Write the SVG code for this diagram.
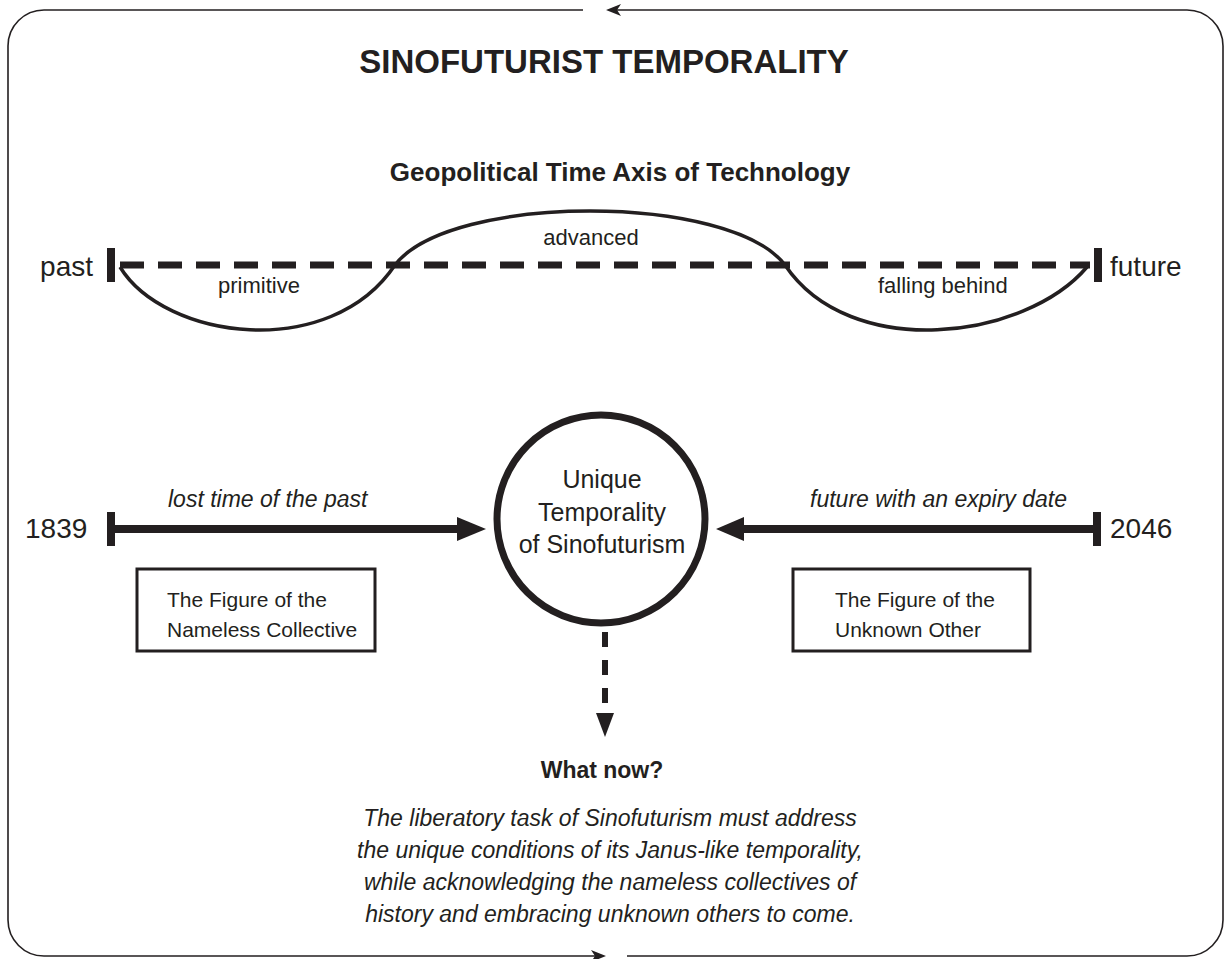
<svg xmlns="http://www.w3.org/2000/svg" width="1224" height="959" viewBox="0 0 1224 959">
<style>
text{font-family:"Liberation Sans",Arial,sans-serif;fill:#231f20}
.b{font-weight:bold}
.i{font-style:italic}
.frame{fill:none;stroke:#231f20;stroke-width:1.6}
.thick{fill:none;stroke:#231f20;stroke-width:8}
.dash{fill:none;stroke:#231f20;stroke-width:7;stroke-dasharray:24 14}
.vdash{fill:none;stroke:#231f20;stroke-width:6;stroke-dasharray:15 13}
.curve{fill:none;stroke:#231f20;stroke-width:3.5}
.box{fill:#fff;stroke:#231f20;stroke-width:3}
.head{fill:#231f20}
</style>
<rect width="1224" height="959" fill="#fff"/>
<g id="frame">
<path class="frame" d="M583 10 H44 A36 36 0 0 0 8 46 V920 A36 36 0 0 0 44 956 H596"/>
<polygon class="head" points="606,956 591,950 595,956 591,962"/>
<path class="frame" d="M627 956 H1187 A36 36 0 0 0 1223 920 V46 A36 36 0 0 0 1187 10 H616"/>
<polygon class="head" points="606,10 621,4 617,10 621,16"/>
</g>
<g id="titles">
<text x="604" y="73" font-size="33" class="b" text-anchor="middle">SINOFUTURIST TEMPORALITY</text>
<text x="620" y="181" font-size="26" class="b" text-anchor="middle">Geopolitical Time Axis of Technology</text>
</g>
<g id="axis">
<rect x="107" y="248" width="8" height="34" fill="#231f20"/>
<rect x="1094" y="248" width="8" height="34" fill="#231f20"/>
<path class="dash" d="M120 265 H1090"/>
<path class="curve" d="M120 267 C165 340 330 362 395 265 C450 193 730 193 785 265 C850 362 1025 340 1087 267"/>
<text x="93" y="276" font-size="28" text-anchor="end">past</text>
<text x="1110" y="276" font-size="28">future</text>
<text x="591" y="245" font-size="22" text-anchor="middle">advanced</text>
<text x="218" y="293" font-size="22">primitive</text>
<text x="878" y="293" font-size="22">falling behind</text>
</g>
<g id="center-node">
<circle cx="601" cy="519" r="104" fill="#fff" stroke="#231f20" stroke-width="7"/>
<text x="602" y="488" font-size="25" text-anchor="middle">Unique</text>
<text x="602" y="521" font-size="25" text-anchor="middle">Temporality</text>
<text x="602" y="553" font-size="25" text-anchor="middle">of Sinofuturism</text>
</g>
<g id="connectors">
<rect x="107" y="512" width="8" height="34" fill="#231f20"/>
<path class="thick" d="M115 529 H460"/>
<polygon class="head" points="486,529 457,517 457,541"/>
<rect x="1093" y="512" width="8" height="34" fill="#231f20"/>
<path class="thick" d="M740 529 H1093"/>
<polygon class="head" points="716,529 744,517 744,541"/>
<path class="vdash" d="M605 632 V716"/>
<polygon class="head" points="605,737 596,713 614,713"/>
</g>
<g id="left-labels">
<text x="25" y="538" font-size="28">1839</text>
<text x="168" y="507" font-size="23" class="i">lost time of the past</text>
</g>
<g id="right-labels">
<text x="1110" y="538" font-size="28">2046</text>
<text x="1067" y="507" font-size="23" class="i" text-anchor="end">future with an expiry date</text>
</g>
<g id="box-left">
<rect class="box" x="137" y="569" width="238" height="82"/>
<text x="167" y="607" font-size="21">The Figure of the</text>
<text x="167" y="637" font-size="21">Nameless Collective</text>
</g>
<g id="box-right">
<rect class="box" x="793" y="569" width="237" height="82"/>
<text x="835" y="607" font-size="21">The Figure of the</text>
<text x="835" y="637" font-size="21">Unknown Other</text>
</g>
<g id="what-now">
<text x="602" y="778" font-size="23" class="b" text-anchor="middle">What now?</text>
<text x="610" y="826" font-size="23" class="i" text-anchor="middle">The liberatory task of Sinofuturism must address</text>
<text x="610" y="858" font-size="23" class="i" text-anchor="middle">the unique conditions of its Janus-like temporality,</text>
<text x="610" y="890" font-size="23" class="i" text-anchor="middle">while acknowledging the nameless collectives of</text>
<text x="610" y="922" font-size="23" class="i" text-anchor="middle">history and embracing unknown others to come.</text>
</g>
</svg>
